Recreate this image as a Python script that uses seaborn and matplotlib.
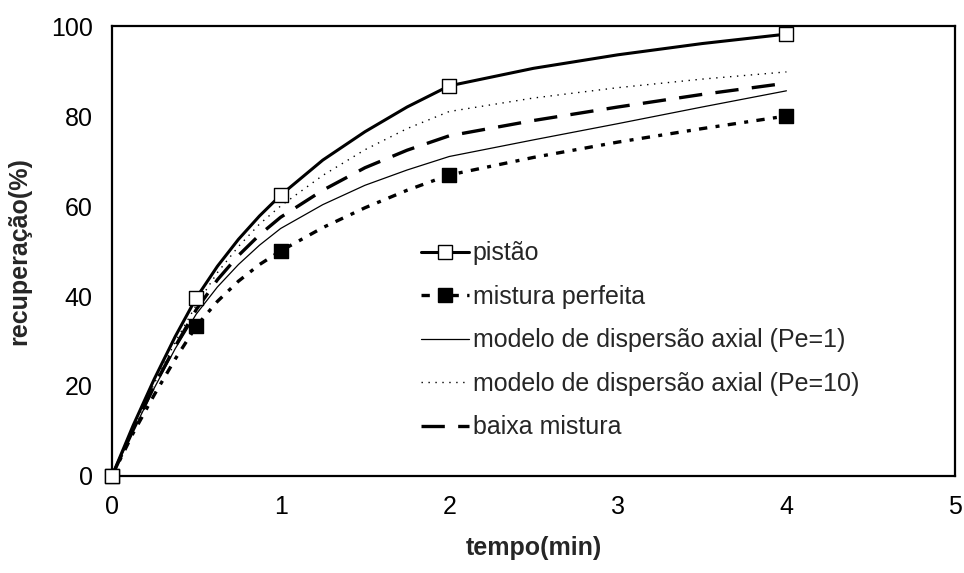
import pandas as pd
import matplotlib
matplotlib.use("Agg")
import matplotlib.pyplot as plt
from matplotlib.lines import Line2D
import seaborn as sns

# tempos medidos (marcadores)
t_data = [0, 0.5, 1, 2, 4]
pistao_data = [0, 39.6, 62.4, 86.7, 98.2]
mistura_data = [0, 33.3, 50.0, 66.9, 80.0]

t_curve = [0, 0.125, 0.25, 0.375, 0.5, 0.625, 0.75, 0.875, 1, 1.25, 1.5, 1.75, 2, 2.5, 3, 3.5, 4]
pistao_curve = [0, 11.2, 21.5, 31.0, 39.6, 46.6, 52.6, 57.8, 62.4, 70.2, 76.5, 82.0, 86.7, 90.6, 93.6, 96.1, 98.2]
mistura_curve = [0, 9.5, 18.0, 26.0, 33.3, 38.8, 43.3, 47.0, 50.0, 55.2, 59.6, 63.5, 66.9, 70.8, 74.2, 77.2, 80.0]
pe1_curve = [0, 10.0, 19.5, 28.3, 36.0, 42.0, 47.0, 51.3, 55.0, 60.3, 64.6, 68.0, 71.0, 74.7, 78.3, 82.0, 85.6]
pe10_curve = [0, 10.5, 20.5, 29.8, 38.0, 45.2, 51.0, 56.0, 60.0, 66.8, 72.5, 77.2, 81.0, 84.0, 86.3, 88.2, 89.8]
baixa_curve = [0, 10.2, 20.0, 28.8, 37.0, 43.6, 49.0, 53.6, 57.5, 63.5, 68.5, 72.4, 75.6, 79.0, 82.0, 84.8, 87.3]

labels = ["pistão", "mistura perfeita", "modelo de dispersão axial (Pe=1)",
          "modelo de dispersão axial (Pe=10)", "baixa mistura"]

sns.set_theme(style="white")
plt.rcParams['font.family'] = ['Liberation Sans', 'DejaVu Sans']

fig = plt.figure(figsize=(9.64, 5.73), dpi=100)
ax = fig.add_axes([0.1162, 0.1693, 0.8745, 0.7853])

curves = pd.DataFrame({"t": t_curve, "pistao": pistao_curve, "mistura": mistura_curve,
                       "pe1": pe1_curve, "pe10": pe10_curve, "baixa": baixa_curve})

mist_ls = (0, (2.5, 2.5, 1.2, 2.5))
pe10_ls = (0, (1, 4))
baixa_ls = (0, (7, 4))

sns.lineplot(data=curves, x="t", y="pe1", ax=ax, color="black", linewidth=0.9)
sns.lineplot(data=curves, x="t", y="pe10", ax=ax, color="black", linewidth=1.0, linestyle=pe10_ls)
sns.lineplot(data=curves, x="t", y="baixa", ax=ax, color="black", linewidth=2.4, linestyle=baixa_ls)
sns.lineplot(data=curves, x="t", y="mistura", ax=ax, color="black", linewidth=2.4, linestyle=mist_ls)
sns.lineplot(data=curves, x="t", y="pistao", ax=ax, color="black", linewidth=2.2)

sns.scatterplot(x=t_data, y=mistura_data, ax=ax, marker="s", s=110, color="black",
                edgecolor="black", linewidth=1, zorder=5, clip_on=False)
sns.scatterplot(x=t_data, y=pistao_data, ax=ax, marker="s", s=110, color="white",
                edgecolor="black", linewidth=1, zorder=6, clip_on=False)

ax.set_xlim(0, 5)
ax.set_ylim(0, 100)
ax.set_xticks([0, 1, 2, 3, 4, 5])
ax.set_yticks([0, 20, 40, 60, 80, 100])
ax.tick_params(axis="both", labelsize=18, length=0, pad=14, colors="black")
ax.set_xlabel("tempo(min)", fontsize=18, fontweight="bold", labelpad=12)
ax.set_ylabel("recuperação(%)", fontsize=18, fontweight="bold", labelpad=14)
for sp in ax.spines.values():
    sp.set_color("black")
    sp.set_linewidth(1.6)

handles = [
    Line2D([], [], color="black", linewidth=2.2, marker="s", markersize=10,
           markerfacecolor="white", markeredgecolor="black"),
    Line2D([], [], color="black", linewidth=2.4, linestyle=mist_ls, marker="s",
           markersize=10, markerfacecolor="black"),
    Line2D([], [], color="black", linewidth=0.9),
    Line2D([], [], color="black", linewidth=1.0, linestyle=pe10_ls),
    Line2D([], [], color="black", linewidth=2.4, linestyle=baixa_ls),
]
ax.legend(handles=handles, labels=labels, loc="lower left", bbox_to_anchor=(0.355, 0.059),
          frameon=False, fontsize=18, handlelength=1.9, handletextpad=0.15,
          labelspacing=0.78, borderaxespad=0, numpoints=1)

fig.savefig("out.png", dpi=100)
